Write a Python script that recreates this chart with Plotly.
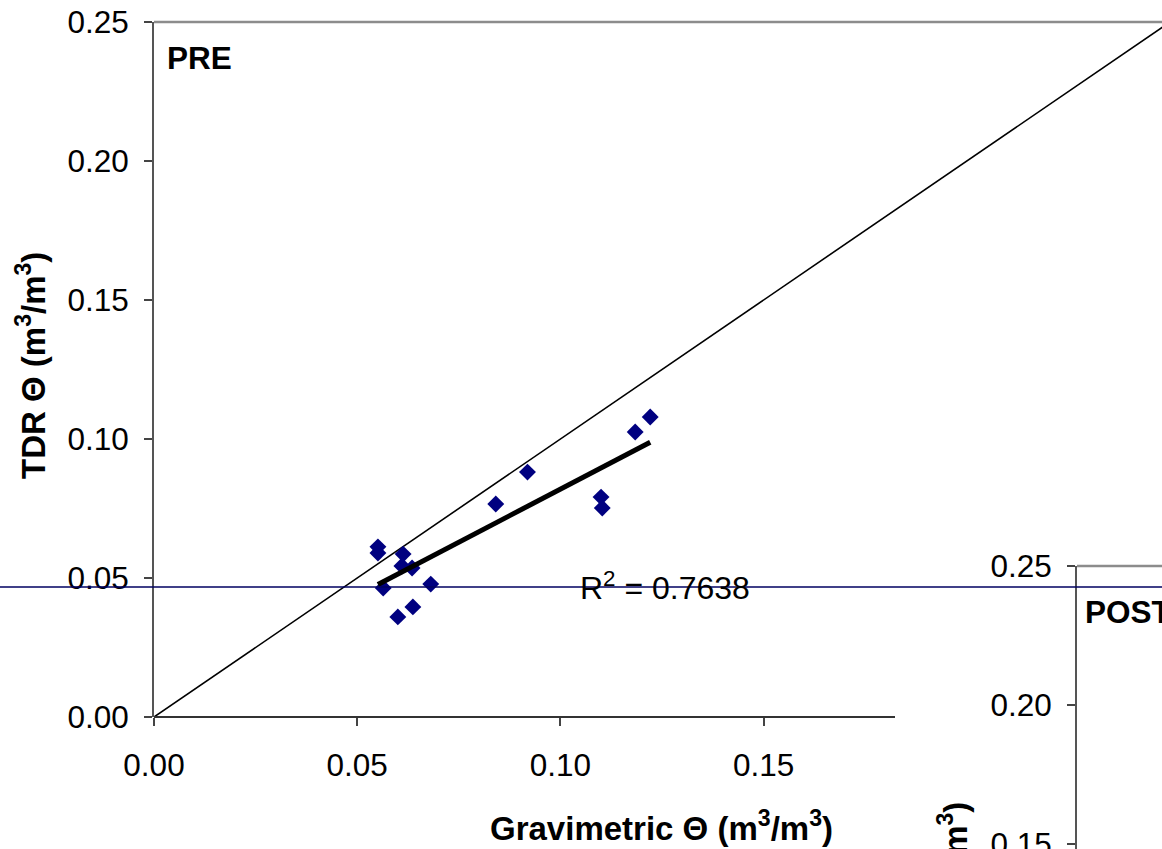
import numpy as np
import plotly.graph_objects as go

# ---- data ----
grav_pre = [0.0551, 0.0551, 0.0613, 0.0610, 0.0635, 0.0564, 0.0681, 0.0637, 0.0600,
            0.0841, 0.0919, 0.1100, 0.1103, 0.1184, 0.1221]
tdr_pre = [0.0612, 0.0590, 0.0586, 0.0543, 0.0536, 0.0464, 0.0478, 0.0396, 0.0360,
           0.0766, 0.0881, 0.0791, 0.0752, 0.1025, 0.1079]
x_ticks = [0.00, 0.05, 0.10, 0.15]
y_ticks = [0.00, 0.05, 0.10, 0.15, 0.20, 0.25]
post_y_ticks = [0.15, 0.20, 0.25]
r2_text = "R<sup>2</sup> = 0.7638"
one_to_one = [0.0, 0.25]
stray_line_y = 0.0468  # horizontal navy line crossing the picture

W, H = 1162, 849
FONT = "Liberation Sans, Arial, sans-serif"


def px(x):
    return x / W


def py(y):
    return 1 - y / H


# trend line (least squares on the points)
slope, icpt = np.polyfit(grav_pre, tdr_pre, 1)
tx = [min(grav_pre), max(grav_pre)]
ty = [slope * v + icpt for v in tx]

fig = go.Figure()
fig.add_trace(go.Scatter(x=one_to_one, y=one_to_one, mode="lines",
                         line=dict(color="black", width=1.6), showlegend=False,
                         hoverinfo="skip"))
fig.add_trace(go.Scatter(x=grav_pre, y=tdr_pre, mode="markers",
                         marker=dict(symbol="diamond", size=13, color="#000080",
                                     line=dict(width=0)),
                         showlegend=False))
fig.add_trace(go.Scatter(x=tx, y=ty, mode="lines",
                         line=dict(color="black", width=5), showlegend=False))
# POST panel (only its frame is visible in the crop)
fig.add_trace(go.Scatter(x=[0], y=[0], xaxis="x2", yaxis="y2", mode="markers",
                         marker=dict(opacity=0), showlegend=False, hoverinfo="skip"))

x_left, x_right_px = 154, 1162
x_scale = 4064.0
y_top, y_bot = 22, 717

tickfont = dict(family=FONT, size=31.5, color="black")

fig.update_layout(
    template="none",
    width=W, height=H,
    margin=dict(l=0, r=0, t=0, b=0, autoexpand=False),
    paper_bgcolor="white", plot_bgcolor="white",
    xaxis=dict(domain=[px(x_left), 1], range=[0, (x_right_px - x_left) / x_scale],
               tickvals=x_ticks, ticktext=[f"{v:.2f}" for v in x_ticks],
               ticks="outside", ticklen=8, tickwidth=1.5, tickcolor="#444",
               showline=False, showgrid=False, zeroline=False, automargin=False,
               tickfont=tickfont, anchor="y", ticklabelstandoff=12),
    yaxis=dict(domain=[py(y_bot), py(y_top)], range=[0, 0.25],
               tickvals=y_ticks, ticktext=[f"{v:.2f}" for v in y_ticks],
               ticks="outside", ticklen=8, tickwidth=1.5, tickcolor="#444",
               showline=True, linecolor="#555", linewidth=2, automargin=False,
               showgrid=False, zeroline=False, tickfont=tickfont, anchor="x",
               ticklabelstandoff=9, ticklabeloverflow="allow"),
    xaxis2=dict(domain=[px(1077), 1], range=[0, 0.25], visible=False, anchor="y2",
                automargin=False),
    yaxis2=dict(domain=[0, py(566)], range=[0.25 - (H - 566) / 2780.0, 0.25],
                tickvals=post_y_ticks, ticktext=[f"{v:.2f}" for v in post_y_ticks],
                ticks="outside", ticklen=8, tickwidth=1.5, tickcolor="#444",
                showline=True, linecolor="#555", linewidth=2, automargin=False,
                showgrid=False, zeroline=False, tickfont=tickfont, anchor="x2",
                ticklabelstandoff=9, ticklabeloverflow="allow"),
)

shapes = [
    # PRE x-axis line (visible part)
    dict(type="line", xref="paper", yref="paper", x0=px(x_left), x1=px(895),
         y0=py(y_bot), y1=py(y_bot), line=dict(color="#333", width=2)),
    # PRE top frame
    dict(type="line", xref="paper", yref="paper", x0=px(x_left), x1=1,
         y0=py(y_top), y1=py(y_top), line=dict(color="#8c8c8c", width=2.5)),
    # POST top frame
    dict(type="line", xref="paper", yref="paper", x0=px(1077), x1=1,
         y0=py(566), y1=py(566), line=dict(color="#8c8c8c", width=2.5)),
    # stray horizontal navy line
    dict(type="line", xref="paper", yref="y", x0=0, x1=1,
         y0=stray_line_y, y1=stray_line_y, line=dict(color="#000060", width=1.5)),
]
fig.update_layout(shapes=shapes)

bold = dict(family=FONT, size=31.5, color="black")
title_font = dict(family=FONT, size=33, color="black")
annos = [
    dict(text="<b>PRE</b>", x=px(165), y=py(58), xanchor="left", yanchor="middle"),
    dict(text="<b>POST</b>", x=px(1083), y=py(612), xanchor="left", yanchor="middle"),
    dict(text=r2_text, x=px(578), y=py(586), xanchor="left", yanchor="middle",
         font=dict(family=FONT, size=32, color="black")),
    dict(text="<b>Gravimetric \u0398 (m<sup>3</sup>/m<sup>3</sup>)</b>", x=px(661), y=py(826),
         xanchor="center", yanchor="middle", font=title_font),
    dict(text="<b>TDR \u0398 (m<sup>3</sup>/m<sup>3</sup>)</b>", x=px(31), y=py(366),
         xanchor="center", yanchor="middle", textangle=-90, font=title_font),
    dict(text="<b>TDR \u0398 (m<sup>3</sup>/m<sup>3</sup>)</b>", x=px(953), y=py(916),
         xanchor="center", yanchor="middle", textangle=-90, font=title_font),
]
for a in annos:
    a.setdefault("font", bold)
    a.update(xref="paper", yref="paper", showarrow=False)
fig.update_layout(annotations=annos)

fig.write_html("out.html", config={"displayModeBar": False},
               post_script="document.body.style.margin='0';"
                           "document.body.style.overflow='hidden';")
